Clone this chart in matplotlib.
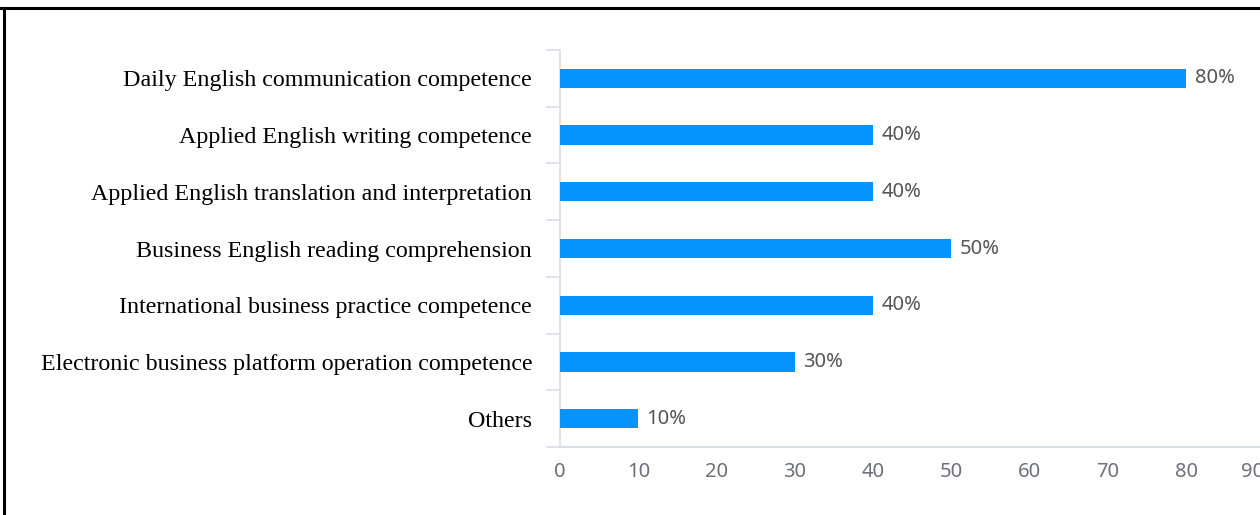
import matplotlib
matplotlib.use("Agg")
import matplotlib.pyplot as plt
from matplotlib.lines import Line2D
import numpy as np

CATEGORIES = [
    "Daily English communication competence",
    "Applied English writing competence",
    "Applied English translation and interpretation",
    "Business English reading comprehension",
    "International business practice competence",
    "Electronic business platform operation competence",
    "Others",
]
VALUES = [80, 40, 40, 50, 40, 30, 10]
X_TICKS = [0, 10, 20, 30, 40, 50, 60, 70, 80, 90]

BAR_COLOR = "#0593fd"
AXIS_COLOR = "#d9dde8"
TEXT_GRAY = "#6e7079"
LABEL_GRAY = "#555555"

fig = plt.figure(figsize=(12.6, 5.15), dpi=100)
fig.patch.set_facecolor("white")

# plot area runs past the right edge so the last tick gets clipped
ax = fig.add_axes([560 / 1260, 68 / 515, 704.6 / 1260, 397 / 515])

y = np.arange(len(CATEGORIES))
ax.barh(y, VALUES, height=0.34, color=BAR_COLOR, zorder=3)

for yi, v in zip(y, VALUES):
    ax.annotate(f"{v}%", (v, yi), xytext=(6, 0), textcoords="offset points",
                ha="left", va="center", fontsize=14.5, color=LABEL_GRAY,
                family="Noto Sans")

ax.set_xlim(0, 90)
ax.set_ylim(len(CATEGORIES) - 0.5, -0.5)

ax.set_xticks(X_TICKS)
ax.set_xticklabels([str(t) for t in X_TICKS], fontsize=14.5, color=TEXT_GRAY,
                   family="Noto Sans")
ax.tick_params(axis="x", length=0, pad=11)
xlabels = ax.get_xticklabels()
xlabels[-1].set_horizontalalignment("right")

ax.set_yticks(y)
ax.set_yticklabels(CATEGORIES, fontsize=17.3, family="Liberation Serif", color="black")
ax.tick_params(axis="y", which="major", length=0, pad=20)
ax.set_yticks(np.arange(len(CATEGORIES) + 1) - 0.5, minor=True)
ax.tick_params(axis="y", which="minor", length=10, width=1.2, color=AXIS_COLOR)

for side in ["top", "right"]:
    ax.spines[side].set_visible(False)
ax.spines["left"].set_color(AXIS_COLOR)
ax.spines["bottom"].set_color(AXIS_COLOR)
ax.spines["left"].set_linewidth(1.2)
ax.spines["bottom"].set_linewidth(1.5)

# frame lines along the top and left edges
fig.add_artist(Line2D([0, 1], [1 - 8 / 515] * 2, color="black", linewidth=2.2,
                      transform=fig.transFigure))
fig.add_artist(Line2D([4 / 1260] * 2, [0, 1 - 8 / 515], color="black", linewidth=2.2,
                      transform=fig.transFigure))

fig.savefig("out.png", dpi=100)
